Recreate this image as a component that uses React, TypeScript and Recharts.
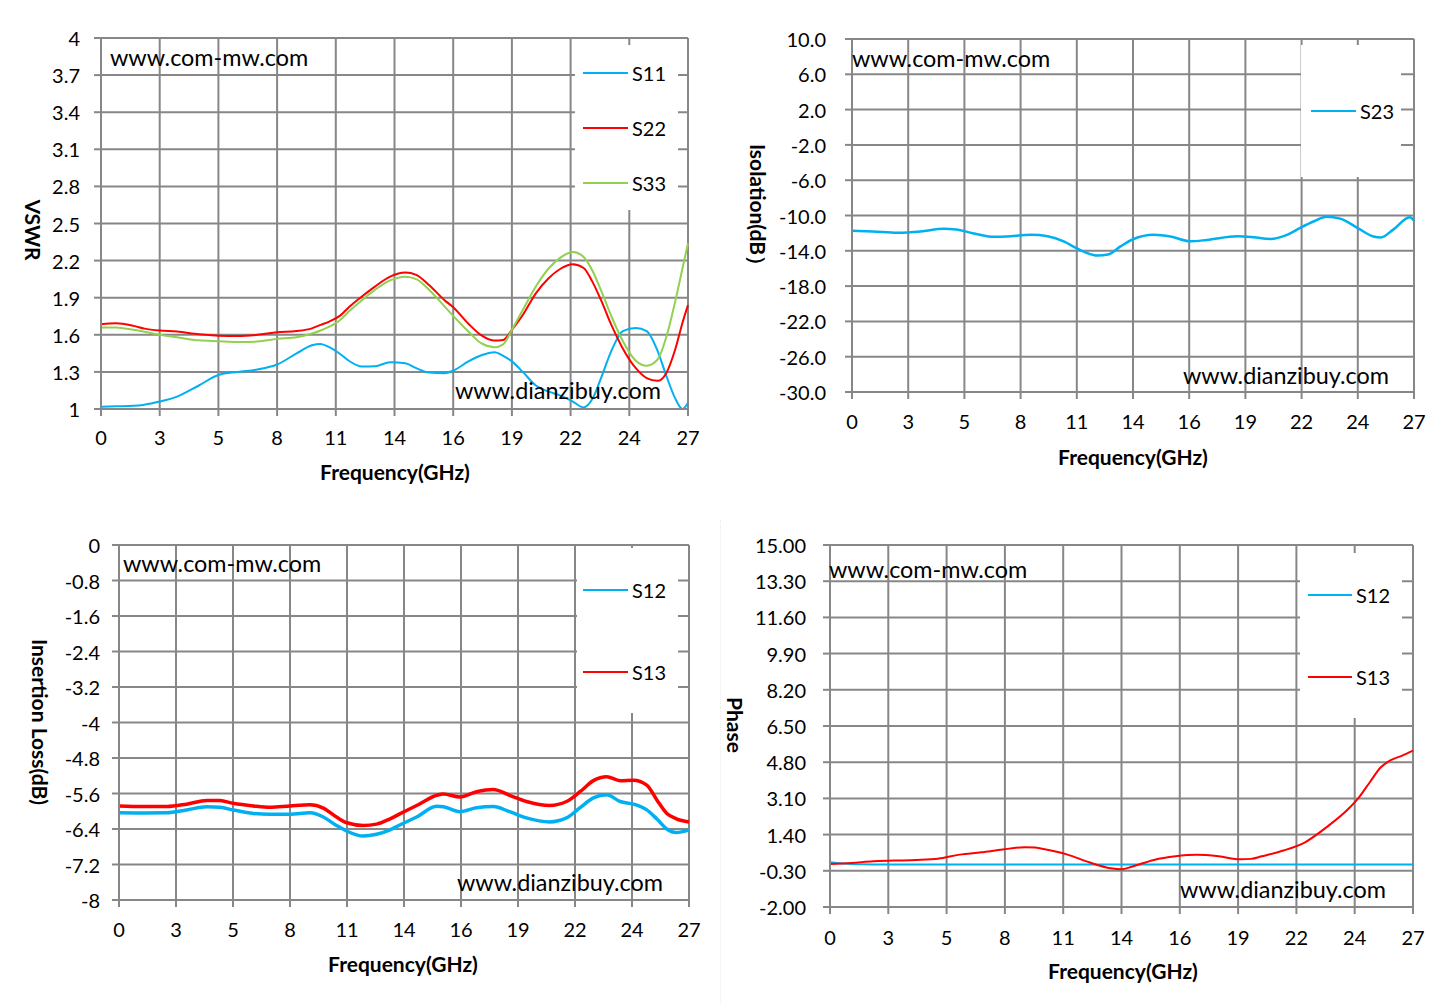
import React from 'react';
import { LineChart, Line, XAxis, YAxis, CartesianGrid, Legend } from 'recharts';

const FONT = 'Lato, "Open Sans", sans-serif';
const GRID = '#878787';
const BLUE = '#00B0F0';
const RED = '#FF0000';
const GREEN = '#92D050';

const freqTicks = [0, 2.7, 5.4, 8.1, 10.8, 13.5, 16.2, 18.9, 21.6, 24.3, 27];
const freqLabels = ['0', '3', '5', '8', '11', '14', '16', '19', '22', '24', '27'];

// VSWR
const vswrFreq = [0, 0.7, 1.5, 2, 2.7, 3.5, 4.5, 5.4, 6.3, 7.2, 8.1, 9, 9.7, 10.1, 10.5, 11, 11.4, 12, 12.6, 13.3, 14, 14.5, 15.1, 15.8, 16.2, 16.9, 17.5, 18.1, 18.5, 18.9, 19.4, 20, 20.6, 21.1, 21.7, 22.2, 22.6, 23, 23.5, 24, 24.6, 25.1, 25.6, 26, 26.4, 26.75, 27];
const s11 = [1.019, 1.022, 1.026, 1.035, 1.06, 1.1, 1.19, 1.275, 1.3, 1.32, 1.36, 1.45, 1.515, 1.526, 1.5, 1.445, 1.39, 1.343, 1.345, 1.378, 1.37, 1.33, 1.295, 1.29, 1.31, 1.385, 1.435, 1.459, 1.43, 1.385, 1.3, 1.19, 1.14, 1.11, 1.06, 1.013, 1.08, 1.25, 1.48, 1.63, 1.655, 1.63, 1.47, 1.27, 1.09, 1.0, 1.05];
const s22 = [1.685, 1.693, 1.672, 1.65, 1.634, 1.626, 1.604, 1.593, 1.59, 1.6, 1.62, 1.63, 1.652, 1.68, 1.707, 1.755, 1.823, 1.91, 1.99, 2.07, 2.103, 2.084, 2.0, 1.88, 1.823, 1.69, 1.595, 1.553, 1.558, 1.64, 1.76, 1.935, 2.06, 2.13, 2.17, 2.14, 2.03, 1.88, 1.67, 1.49, 1.33, 1.25, 1.228, 1.29, 1.475, 1.7, 1.84];
const s33 = [1.66, 1.66, 1.64, 1.625, 1.6, 1.58, 1.555, 1.548, 1.542, 1.545, 1.567, 1.58, 1.61, 1.635, 1.666, 1.72, 1.788, 1.88, 1.963, 2.04, 2.07, 2.05, 1.963, 1.83, 1.753, 1.626, 1.53, 1.5, 1.523, 1.64, 1.8, 1.99, 2.138, 2.22, 2.27, 2.23, 2.12, 1.96, 1.74, 1.55, 1.39, 1.35, 1.4, 1.58, 1.86, 2.14, 2.34];
const vswrTicks = [1, 1.3, 1.6, 1.9, 2.2, 2.5, 2.8, 3.1, 3.4, 3.7, 4];
const vswrLabels = ['1', '1.3', '1.6', '1.9', '2.2', '2.5', '2.8', '3.1', '3.4', '3.7', '4'];

// Isolation
const isoFreq = [0, 1, 2.2, 3.3, 4.4, 5, 5.8, 6.8, 7.4, 8.6, 9.4, 10.2, 10.8, 11.8, 12.3, 12.9, 13.5, 14.5, 15.3, 16.25, 17.05, 18.5, 19.3, 20.1, 20.9, 21.6, 22.2, 22.8, 23.45, 24.3, 25.05, 25.4, 26, 26.8, 27];
const s23 = [-11.73, -11.81, -11.96, -11.81, -11.5, -11.58, -12.0, -12.42, -12.38, -12.19, -12.35, -12.96, -13.73, -14.54, -14.42, -13.5, -12.69, -12.19, -12.38, -12.92, -12.77, -12.35, -12.46, -12.65, -12.19, -11.31, -10.65, -10.15, -10.35, -11.42, -12.38, -12.5, -11.6, -10.2, -10.58];
const isoTicks = [-30, -26, -22, -18, -14, -10, -6, -2, 2, 6, 10];
const isoLabels = ['-30.0', '-26.0', '-22.0', '-18.0', '-14.0', '-10.0', '-6.0', '-2.0', '2.0', '6.0', '10.0'];

// Insertion loss
const ilFreq = [0, 1.15, 2.26, 3.2, 4.15, 4.78, 5.4, 6.36, 7.15, 8.1, 9.05, 9.68, 10.3, 10.8, 11.57, 12.2, 12.84, 13.3, 14.1, 15.05, 15.36, 16.15, 16.94, 17.73, 18.5, 19.3, 20.4, 21.2, 21.84, 22.47, 23.1, 23.74, 24.37, 25, 25.47, 25.95, 26.4, 27];
const il12 = [-6.035, -6.04, -6.035, -5.97, -5.9, -5.91, -5.97, -6.05, -6.07, -6.07, -6.035, -6.13, -6.32, -6.45, -6.56, -6.52, -6.42, -6.31, -6.13, -5.89, -5.9, -6.01, -5.92, -5.895, -6.01, -6.15, -6.24, -6.15, -5.92, -5.7, -5.63, -5.78, -5.84, -5.97, -6.17, -6.4, -6.48, -6.42];
const il13 = [-5.88, -5.895, -5.895, -5.84, -5.755, -5.76, -5.82, -5.88, -5.91, -5.88, -5.856, -5.93, -6.13, -6.26, -6.32, -6.29, -6.17, -6.06, -5.87, -5.64, -5.61, -5.68, -5.56, -5.51, -5.64, -5.78, -5.87, -5.78, -5.56, -5.31, -5.22, -5.31, -5.3, -5.41, -5.74, -6.05, -6.17, -6.24];
const ilTicks = [-8, -7.2, -6.4, -5.6, -4.8, -4, -3.2, -2.4, -1.6, -0.8, 0];
const ilLabels = ['-8', '-7.2', '-6.4', '-5.6', '-4.8', '-4', '-3.2', '-2.4', '-1.6', '-0.8', '0'];

// Phase
const phFreq = [0, 1, 2, 3, 4, 5, 6, 7, 8, 9, 9.5, 10, 11, 12, 13, 13.5, 14, 15, 16, 17, 18, 19, 19.5, 20, 21, 22, 23, 24, 24.5, 25, 25.5, 26, 26.5, 27];
const ph12 = [0.1, 0.02, 0, 0, 0, 0, 0, 0, 0, 0, 0, 0, 0, 0, 0, 0, 0, 0, 0, 0, 0, 0, 0, 0, 0, 0, 0, 0, 0, 0, 0, 0, 0, 0];
const ph13 = [0.02, 0.07, 0.15, 0.18, 0.21, 0.27, 0.46, 0.57, 0.7, 0.81, 0.79, 0.7, 0.46, 0.1, -0.18, -0.23, -0.1, 0.21, 0.38, 0.45, 0.38, 0.24, 0.26, 0.38, 0.65, 1.04, 1.75, 2.6, 3.15, 3.86, 4.55, 4.91, 5.11, 5.34];
const phTicks = [-2, -0.3, 1.4, 3.1, 4.8, 6.5, 8.2, 9.9, 11.6, 13.3, 15];
const phLabels = ['-2.00', '-0.30', '1.40', '3.10', '4.80', '6.50', '8.20', '9.90', '11.60', '13.30', '15.00'];

type Series = { key: string; name: string; color: string; width?: number };

type PanelProps = {
  rows: any[];
  series: Series[];
  plot: { l: number; r: number; t: number; b: number };
  yDomain: [number, number];
  yTicks: number[];
  yLabels: string[];
  yLabelRight: number;
  xLabelY: number;
  xTitle: { x: number; y: number };
  yTitle: { text: string; x: number; y: number };
  legendBox: { x: number; y: number; w: number; h: number };
  legendRows: number[];
  legendLineX: [number, number];
  marks: { text: string; x: number; y: number }[];
};

const PAD_L = 100;
const PAD_T = 20;
const PAD_R = 20;
const PAD_B = 60;

function Panel(p: PanelProps) {
  const pw = p.plot.r - p.plot.l;
  const ph = p.plot.b - p.plot.t;
  const ox = p.plot.l - PAD_L;
  const oy = p.plot.t - PAD_T;

  const yTick = (props: any) => {
    const i = p.yTicks.indexOf(props.payload.value);
    return (
      <text x={p.yLabelRight - ox} y={props.y} textAnchor="end" dominantBaseline="central"
        fontFamily={FONT} fontSize={20} fill="#000">
        {p.yLabels[i]}
      </text>
    );
  };
  const xTick = (props: any) => {
    const i = freqTicks.indexOf(props.payload.value);
    return (
      <text x={props.x} y={p.xLabelY - oy} textAnchor="middle" dominantBaseline="central"
        fontFamily={FONT} fontSize={20} fill="#000">
        {freqLabels[i]}
      </text>
    );
  };
  const legendContent = () => (
    <div style={{ position: 'relative', width: p.legendBox.w, height: p.legendBox.h, background: '#fff' }}>
      {p.series.map((s, i) => (
        <div key={s.key} style={{ position: 'absolute', left: 0, top: p.legendRows[i] - p.legendBox.y - 12, height: 24, display: 'flex', alignItems: 'center' }}>
          <div style={{ marginLeft: p.legendLineX[0] - p.legendBox.x, width: p.legendLineX[1] - p.legendLineX[0], height: 2, background: s.color }} />
          <span style={{ marginLeft: 4, fontFamily: FONT, fontSize: 20, color: '#000', lineHeight: '24px' }}>{s.name}</span>
        </div>
      ))}
    </div>
  );

  return (
    <>
      <div style={{ position: 'absolute', left: ox, top: oy }}>
        <LineChart width={pw + PAD_L + PAD_R} height={ph + PAD_T + PAD_B} data={p.rows}
          margin={{ top: PAD_T, right: PAD_R, left: 0, bottom: 0 }}>
          <CartesianGrid stroke={GRID} strokeWidth={2} />
          <XAxis dataKey="f" type="number" domain={[0, 27]} ticks={freqTicks} interval={0}
            height={PAD_B} stroke={GRID} strokeWidth={2} tickSize={7} tick={xTick} />
          <YAxis type="number" domain={p.yDomain} ticks={p.yTicks} interval={0} allowDataOverflow
            width={PAD_L} stroke={GRID} strokeWidth={2} tickSize={7} tick={yTick} />
          <Legend layout="vertical" align="center" verticalAlign="middle" content={legendContent}
            wrapperStyle={{ left: p.legendBox.x - ox, top: p.legendBox.y - oy, width: p.legendBox.w, height: p.legendBox.h }} />
          {p.series.map((s) => (
            <Line key={s.key} dataKey={s.key} name={s.name} type="monotone" stroke={s.color}
              strokeWidth={s.width ?? 2} dot={false} isAnimationActive={false} />
          ))}
        </LineChart>
      </div>
      <div style={{ position: 'absolute', left: p.xTitle.x, top: p.xTitle.y, transform: 'translate(-50%, -50%)', fontFamily: FONT, fontWeight: 700, fontSize: 21, whiteSpace: 'nowrap' }}>
        Frequency(GHz)
      </div>
      <div style={{ position: 'absolute', left: p.yTitle.x, top: p.yTitle.y, transform: 'translate(-50%, -50%) rotate(90deg)', fontFamily: FONT, fontWeight: 700, fontSize: 21, whiteSpace: 'nowrap' }}>
        {p.yTitle.text}
      </div>
      {p.marks.map((m, i) => (
        <div key={i} style={{ position: 'absolute', left: m.x, top: m.y - 14, lineHeight: '28px', fontFamily: FONT, fontSize: 23.4, whiteSpace: 'nowrap' }}>
          {m.text}
        </div>
      ))}
    </>
  );
}

const vswrRows = vswrFreq.map((f, i) => ({ f, s11: s11[i], s22: s22[i], s33: s33[i] }));
const isoRows = isoFreq.map((f, i) => ({ f, s23: s23[i] }));
const ilRows = ilFreq.map((f, i) => ({ f, s12: il12[i], s13: il13[i] }));
const phRows = phFreq.map((f, i) => ({ f, s12: ph12[i], s13: ph13[i] }));

export default function App() {
  return (
    <div style={{ position: 'absolute', left: 0, top: 0, width: 1440, height: 1004, background: '#fff', overflow: 'hidden' }}>
      <Panel
        rows={vswrRows}
        series={[
          { key: 's11', name: 'S11', color: BLUE },
          { key: 's22', name: 'S22', color: RED },
          { key: 's33', name: 'S33', color: GREEN },
        ]}
        plot={{ l: 101, r: 688, t: 38, b: 409 }}
        yDomain={[1, 4]} yTicks={vswrTicks} yLabels={vswrLabels}
        yLabelRight={80} xLabelY={437}
        xTitle={{ x: 395, y: 471 }}
        yTitle={{ text: 'VSWR', x: 33, y: 230 }}
        legendBox={{ x: 575, y: 45, w: 103, h: 165 }}
        legendRows={[73, 128, 183]}
        legendLineX={[583, 628]}
        marks={[{ text: 'www.com-mw.com', x: 110, y: 57 }, { text: 'www.dianzibuy.com', x: 455, y: 390 }]}
      />
      <Panel
        rows={isoRows}
        series={[{ key: 's23', name: 'S23', color: BLUE, width: 2.5 }]}
        plot={{ l: 852, r: 1414, t: 39, b: 392 }}
        yDomain={[-30, 10]} yTicks={isoTicks} yLabels={isoLabels}
        yLabelRight={826} xLabelY={421}
        xTitle={{ x: 1133, y: 456 }}
        yTitle={{ text: 'Isolation(dB）', x: 757, y: 210 }}
        legendBox={{ x: 1301, y: 45, w: 100, h: 132 }}
        legendRows={[111]}
        legendLineX={[1311, 1356]}
        marks={[{ text: 'www.com-mw.com', x: 852, y: 58 }, { text: 'www.dianzibuy.com', x: 1183, y: 375 }]}
      />
      <Panel
        rows={ilRows}
        series={[
          { key: 's12', name: 'S12', color: BLUE, width: 3.5 },
          { key: 's13', name: 'S13', color: RED, width: 3.5 },
        ]}
        plot={{ l: 119, r: 689, t: 545, b: 900 }}
        yDomain={[-8, 0]} yTicks={ilTicks} yLabels={ilLabels}
        yLabelRight={100} xLabelY={929}
        xTitle={{ x: 403, y: 963 }}
        yTitle={{ text: 'Insertion Loss(dB)', x: 40, y: 722 }}
        legendBox={{ x: 577, y: 548, w: 101, h: 165 }}
        legendRows={[590, 672]}
        legendLineX={[583, 628]}
        marks={[{ text: 'www.com-mw.com', x: 123, y: 563 }, { text: 'www.dianzibuy.com', x: 457, y: 882 }]}
      />
      <Panel
        rows={phRows}
        series={[
          { key: 's12', name: 'S12', color: BLUE },
          { key: 's13', name: 'S13', color: RED },
        ]}
        plot={{ l: 830, r: 1413, t: 545, b: 907 }}
        yDomain={[-2, 15]} yTicks={phTicks} yLabels={phLabels}
        yLabelRight={806} xLabelY={937}
        xTitle={{ x: 1123, y: 970 }}
        yTitle={{ text: 'Phase', x: 735, y: 725 }}
        legendBox={{ x: 1300, y: 553, w: 102, h: 165 }}
        legendRows={[595, 677]}
        legendLineX={[1308, 1352]}
        marks={[{ text: 'www.com-mw.com', x: 829, y: 569 }, { text: 'www.dianzibuy.com', x: 1180, y: 889 }]}
      />
      <div style={{ position: 'absolute', left: 720, top: 520, width: 0, height: 484, borderLeft: '1px dotted #ececec' }} />
    </div>
  );
}
